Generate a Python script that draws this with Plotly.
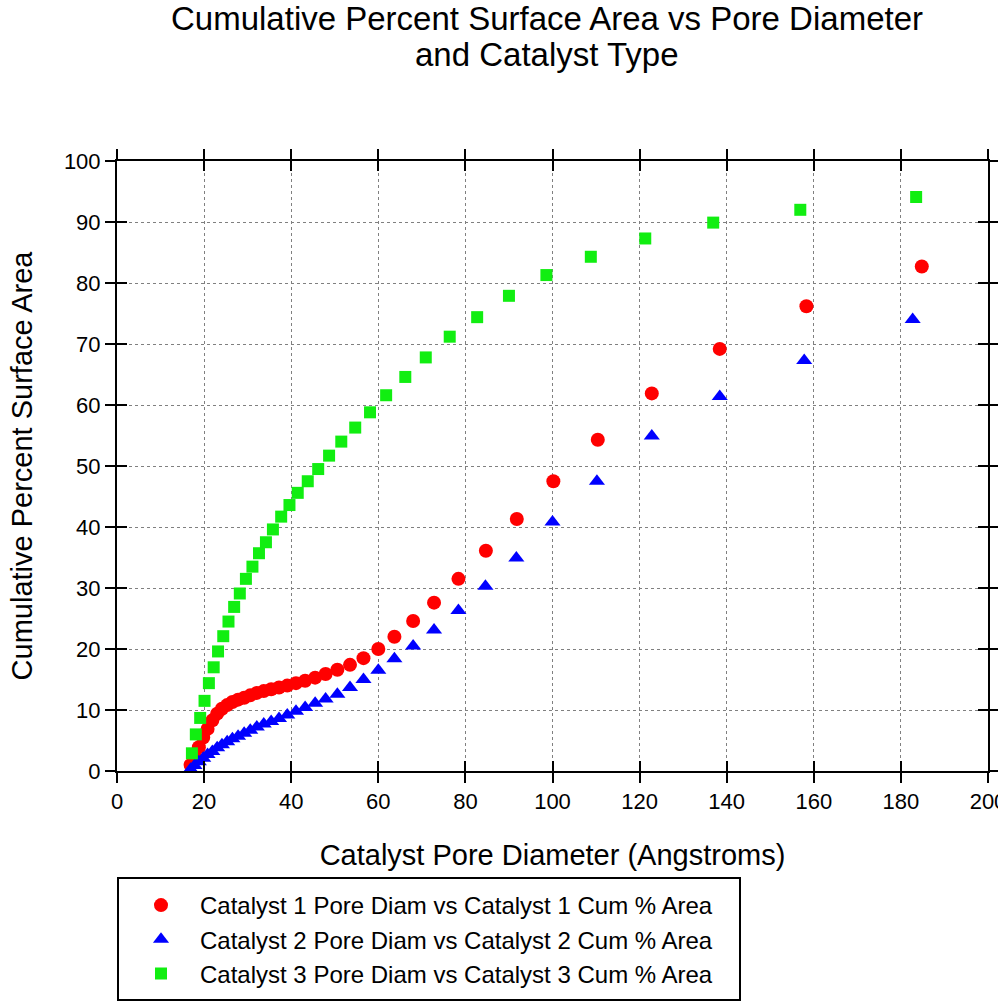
import plotly.graph_objects as go

# Catalyst 1: pore diameter (Angstroms) and cumulative % surface area
cat1_diam = [16.9, 17.8, 18.8, 19.8, 20.8, 21.9, 23.0, 24.1, 25.3, 26.5, 27.8, 29.2,
             30.6, 32.1, 33.7, 35.4, 37.2, 39.1, 41.1, 43.2, 45.5, 47.9, 50.6, 53.5,
             56.6, 60.0, 63.7, 68.0, 72.8, 78.4, 84.7, 91.8, 100.2, 110.4, 122.8,
             138.4, 158.3, 184.8]
cat1_area = [1.0, 2.4, 3.9, 5.5, 6.9, 8.3, 9.4, 10.2, 10.8, 11.3, 11.7, 12.0,
             12.4, 12.8, 13.1, 13.4, 13.7, 14.0, 14.4, 14.8, 15.3, 15.9, 16.6, 17.4,
             18.5, 20.0, 22.0, 24.6, 27.6, 31.5, 36.1, 41.3, 47.5, 54.3, 61.9,
             69.2, 76.2, 82.7]

# Catalyst 2
cat2_diam = [16.9, 17.8, 18.8, 19.8, 20.8, 21.9, 23.0, 24.1, 25.3, 26.5, 27.8, 29.2,
             30.6, 32.1, 33.7, 35.4, 37.2, 39.1, 41.1, 43.2, 45.5, 47.9, 50.6, 53.5,
             56.6, 60.0, 63.7, 68.0, 72.8, 78.4, 84.6, 91.7, 100.0, 110.2, 122.8,
             138.4, 157.8, 182.7]
cat2_area = [0.3, 0.9, 1.5, 2.1, 2.7, 3.2, 3.8, 4.3, 4.8, 5.3, 5.7, 6.2,
             6.7, 7.2, 7.7, 8.1, 8.6, 9.2, 9.8, 10.4, 11.1, 11.8, 12.6, 13.7,
             15.0, 16.5, 18.4, 20.5, 23.1, 26.3, 30.3, 34.9, 40.8, 47.5, 54.9,
             61.4, 67.3, 74.0]

# Catalyst 3
cat3_diam = [17.2, 18.1, 19.1, 20.1, 21.1, 22.2, 23.2, 24.4, 25.6, 26.9, 28.2, 29.6,
             31.1, 32.6, 34.2, 35.8, 37.7, 39.6, 41.5, 43.8, 46.2, 48.7, 51.5, 54.7,
             58.1, 61.8, 66.2, 70.9, 76.4, 82.7, 90.0, 98.6, 108.8, 121.3, 136.9,
             156.9, 183.5]
cat3_area = [2.9, 6.0, 8.7, 11.5, 14.4, 17.0, 19.6, 22.1, 24.5, 26.9, 29.1, 31.5,
             33.5, 35.7, 37.5, 39.6, 41.7, 43.6, 45.6, 47.5, 49.5, 51.7, 54.0, 56.3,
             58.8, 61.6, 64.6, 67.8, 71.2, 74.4, 77.9, 81.3, 84.3, 87.3, 89.9,
             92.0, 94.1]

x_ticks = list(range(0, 201, 20))
y_ticks = list(range(0, 101, 10))

title_lines = ["Cumulative Percent Surface Area vs Pore Diameter", "and Catalyst Type"]

FONT = "Liberation Sans, Arial, sans-serif"

# figure geometry (pixels)
W, H = 998, 1002
L, R, T, B = 117, 10, 161, 231
PW, PH = W - L - R, H - T - B


def px_x(p):
    return (p - L) / PW


def px_y(p):
    return (H - B - p) / PH


fig = go.Figure()
fig.add_trace(go.Scatter(
    x=cat1_diam, y=cat1_area, mode="markers",
    name="Catalyst 1 Pore Diam vs Catalyst 1 Cum % Area",
    marker=dict(symbol="circle", size=14, color="#ff0000", line=dict(width=0)),
))
fig.add_trace(go.Scatter(
    x=cat2_diam, y=cat2_area, mode="markers",
    name="Catalyst 2 Pore Diam vs Catalyst 2 Cum % Area",
    marker=dict(symbol="triangle-up", size=14, color="#0000ff", line=dict(width=0)),
))
fig.add_trace(go.Scatter(
    x=cat3_diam, y=cat3_area, mode="markers",
    name="Catalyst 3 Pore Diam vs Catalyst 3 Cum % Area",
    marker=dict(symbol="square", size=12, color="#11ee11", line=dict(width=0)),
))
# empty trace carrying the overlay axes (inward halves of the crossing ticks)
fig.add_trace(go.Scatter(x=[None], y=[None], xaxis="x2", yaxis="y2",
                         showlegend=False, hoverinfo="skip"))

axis_common = dict(
    showline=True, linecolor="black", linewidth=2,
    ticks="outside", ticklen=10, tickwidth=2, tickcolor="black",
    mirror="allticks", zeroline=False, automargin=False,
    ticklabeloverflow="allow",
    showgrid=True, gridcolor="#808080", gridwidth=1, griddash="dot",
    tickfont=dict(family=FONT, size=22, color="black"),
)
overlay_common = dict(
    ticks="inside", ticklen=10, tickwidth=2, tickcolor="black",
    mirror="allticks", showticklabels=False, showgrid=False,
    zeroline=False, showline=False, automargin=False,
)

annotations = [
    dict(text=title_lines[0], x=px_x(546.5), y=px_y(18), xref="paper", yref="paper",
         xanchor="center", yanchor="middle", showarrow=False,
         font=dict(family=FONT, size=33, color="black")),
    dict(text=title_lines[1], x=px_x(546.5), y=px_y(55), xref="paper", yref="paper",
         xanchor="center", yanchor="middle", showarrow=False,
         font=dict(family=FONT, size=33, color="black")),
]

fig.update_layout(
    width=W, height=H,
    paper_bgcolor="white", plot_bgcolor="white",
    margin=dict(l=L, r=R, t=T, b=B, autoexpand=False),
    font=dict(family=FONT, color="black"),
    annotations=annotations,
    xaxis=dict(
        range=[0, 200], tickvals=x_ticks,
        title=dict(text="Catalyst Pore Diameter (Angstroms)",
                   font=dict(family=FONT, size=29), standoff=31),
        **axis_common,
    ),
    yaxis=dict(
        range=[0, 100], tickvals=y_ticks,
        title=dict(text="Cumulative Percent Surface Area",
                   font=dict(family=FONT, size=29), standoff=23),
        **axis_common,
    ),
    xaxis2=dict(range=[0, 200], tickvals=x_ticks, overlaying="x", anchor="y2",
                **overlay_common),
    yaxis2=dict(range=[0, 100], tickvals=y_ticks, overlaying="y", anchor="x2",
                **overlay_common),
    legend=dict(
        x=px_x(122), xanchor="left", y=px_y(883), yanchor="top",
        bgcolor="rgba(0,0,0,0)", borderwidth=0,
        font=dict(family=FONT, size=24, color="black"),
        itemwidth=68, tracegroupgap=0,
    ),
    shapes=[dict(type="rect", xref="paper", yref="paper",
                 x0=px_x(118), x1=px_x(740), y0=px_y(1000), y1=px_y(878),
                 line=dict(color="black", width=2), fillcolor="rgba(0,0,0,0)")],
)

fig.write_html("out.html")
